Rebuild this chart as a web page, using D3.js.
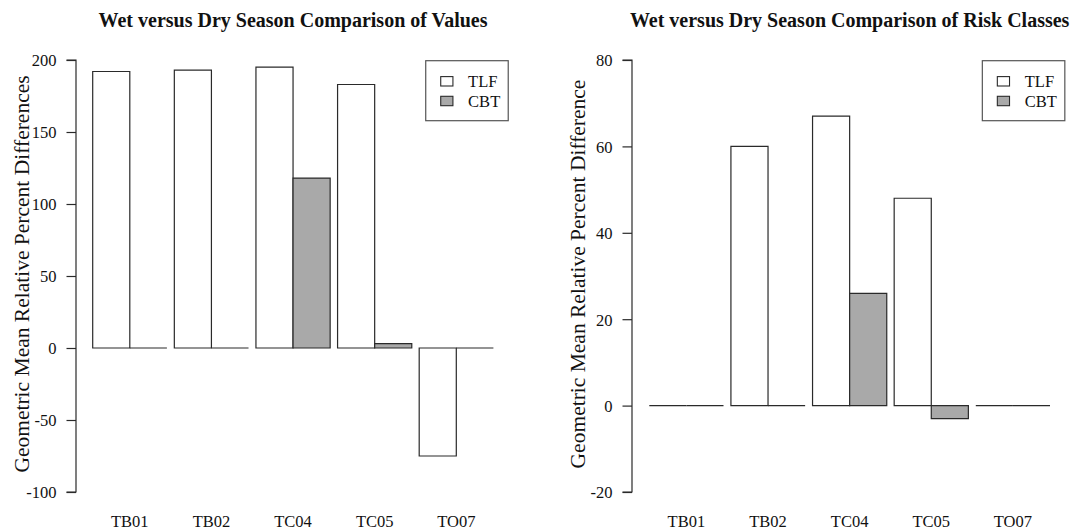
<!DOCTYPE html>
<html><head><meta charset="utf-8">
<script src="https://cdn.jsdelivr.net/npm/d3@7"></script>
<style>
html,body{margin:0;padding:0;background:#fff;}
svg{display:block;}
text{font-family:"Liberation Serif","Times New Roman",serif;fill:#111;}
</style></head>
<body>
<svg id="chart" width="1073" height="531"></svg>
<script>
const categories = ["TB01","TB02","TC04","TC05","TO07"];
const seriesNames = ["TLF","CBT"];
const seriesColors = ["#ffffff","#a9a9a9"];

// Panel 1: values
const valuesTLF = [192, 193, 195, 183, -75];
const valuesCBT = [0, 0, 118, 3, 0];
const valuesTicks = [-100, -50, 0, 50, 100, 150, 200];

// Panel 2: risk classes
const riskTLF = [0, 60, 67, 48, 0];
const riskCBT = [0, 0, 26, -3, 0];
const riskTicks = [-20, 0, 20, 40, 60, 80];

const titles = ["Wet versus Dry Season Comparison of Values",
                "Wet versus Dry Season Comparison of Risk Classes"];
const yLabels = ["Geometric Mean Relative Percent Differences",
                 "Geometric Mean Relative Percent Difference"];

const panels = [
  {axisX: 76, barsL: 92.7, barsR: 493.4, tlf: valuesTLF, cbt: valuesCBT, ticks: valuesTicks, title: titles[0], ylab: yLabels[0]},
  {axisX: 632, barsL: 649.3, barsR: 1050, tlf: riskTLF, cbt: riskCBT, ticks: riskTicks, title: titles[1], ylab: yLabels[1]}
];

const svg = d3.select("#chart");
const yTop = 60, yBot = 492;
const stroke = "#2a2a2a";

panels.forEach(p => {
  const g = svg.append("g");
  const y = d3.scaleLinear().domain(d3.extent(p.ticks)).range([yBot, yTop]);
  const x0 = d3.scaleBand().domain(categories).range([p.barsL, p.barsR])
      .paddingInner(0.2/2.2).paddingOuter(0);
  const x1 = d3.scaleBand().domain(seriesNames).range([0, x0.bandwidth()]).padding(0);
  const ext = x0.step() / 2.2 * 0.432;
  const plotL = p.barsL - ext, plotR = p.barsR + ext;
  const center = (plotL + plotR) / 2;

  // bars (drawn as paths so zero-height bars still show a line)
  const data = [];
  categories.forEach((c, i) => {
    data.push({c, s: "TLF", v: p.tlf[i], fill: seriesColors[0]});
    data.push({c, s: "CBT", v: p.cbt[i], fill: seriesColors[1]});
  });
  g.selectAll("path.bar").data(data).join("path")
    .attr("class", "bar")
    .attr("d", d => {
      const xa = x0(d.c) + x1(d.s), xb = xa + x1.bandwidth();
      const ya = y(0), yb = y(d.v);
      return `M${xa},${ya}H${xb}V${yb}H${xa}Z`;
    })
    .attr("fill", d => d.fill)
    .attr("stroke", stroke)
    .attr("stroke-width", 1.2);

  // y axis
  const axis = d3.axisLeft(y).tickValues(p.ticks).tickSize(9.5).tickPadding(10)
    .tickFormat(d3.format("d"));
  const ag = g.append("g").attr("transform", `translate(${p.axisX},0)`).call(axis);
  ag.select(".domain").attr("stroke", stroke).attr("stroke-width", 1.2)
    .attr("d", `M-9.5,${y.range()[0]}H0V${y.range()[1]}H-9.5`);
  ag.selectAll(".tick line").attr("stroke", stroke).attr("stroke-width", 1.2);
  ag.selectAll(".tick text").attr("font-size", "16.5px")
    .attr("font-family", '"Liberation Serif","Times New Roman",serif')
    .attr("fill", "#111").attr("dy", "0.36em")
    .text(d => d < 0 ? "-" + Math.abs(d) : d);

  // x category labels
  g.selectAll("text.xlab").data(categories).join("text")
    .attr("class", "xlab")
    .attr("x", d => x0(d) + x0.bandwidth() / 2)
    .attr("y", 527)
    .attr("text-anchor", "middle")
    .attr("font-size", "16.5px")
    .text(d => d);

  // title
  g.append("text").attr("x", center).attr("y", 27)
    .attr("text-anchor", "middle").attr("font-size", "20px").attr("font-weight", "bold")
    .text(p.title);

  // y label
  g.append("text")
    .attr("transform", `translate(${p.axisX - 47},274) rotate(-90)`)
    .attr("text-anchor", "middle").attr("font-size", "21.5px")
    .text(p.ylab);

  // legend
  const lw = 82.5, lh = 60;
  const lx = plotR - 1.2 - lw, ly = y(d3.max(p.ticks)) + 0.7;
  const lg = g.append("g").attr("transform", `translate(${lx},${ly})`);
  lg.append("rect").attr("x", 0).attr("y", 0).attr("width", lw).attr("height", lh)
    .attr("fill", "#fff").attr("stroke", "#555").attr("stroke-width", 1.2);
  seriesNames.forEach((s, i) => {
    const cy = 20.6 + i * 19.7;
    lg.append("rect").attr("x", 15).attr("y", cy - 4.7).attr("width", 12.2).attr("height", 9.4)
      .attr("fill", seriesColors[i]).attr("stroke", stroke).attr("stroke-width", 1.1);
    lg.append("text").attr("x", 42.4).attr("y", cy + 5.8).attr("font-size", "16.5px").text(s);
  });
});
</script>
</body></html>
